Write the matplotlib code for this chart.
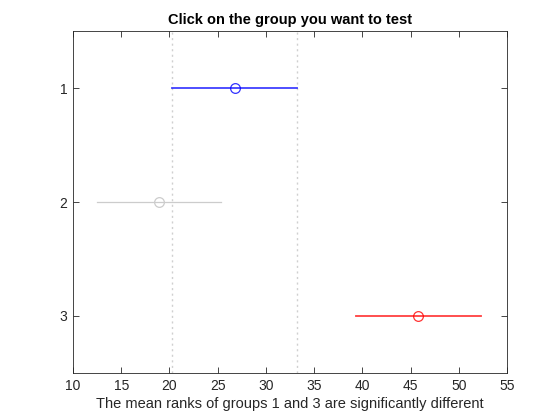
import matplotlib
matplotlib.use("Agg")
import matplotlib.pyplot as plt

groups = ["1", "2", "3"]
means = [26.75, 18.9, 45.8]
lower = [20.3, 12.45, 39.35]
upper = [33.2, 25.35, 52.25]
colors = ["#0000ff", "#cccccc", "#ff0000"]
xticks = [10, 15, 20, 25, 30, 35, 40, 45, 50, 55]

plt.rcParams['font.family'] = ['Liberation Sans', 'DejaVu Sans']
fig = plt.figure(figsize=(5.6, 4.2), dpi=100)
ax = fig.add_axes([0.1304, 0.112, 0.775, 0.814])

ypos = [1, 2, 3]
for y, m, lo, hi, c in zip(ypos, means, lower, upper, colors):
    gray = c == "#cccccc"
    ax.plot([lo, hi], [y, y], color=c, lw=0.9 if gray else 1.3, alpha=1 if gray else 0.75)
    ax.plot([m], [y], marker='o', mfc='none', mec=c, ms=7, mew=0.9, alpha=1 if gray else 0.8)

# comparison interval of selected group
ax.axvline(lower[0], color="#d0d0d0", lw=1.0, ls=(0, (1.5, 2.5)), zorder=0)
ax.axvline(upper[0], color="#d0d0d0", lw=1.0, ls=(0, (1.5, 2.5)), zorder=0)

ax.set_xlim(10, 55)
ax.set_ylim(3.5, 0.5)
ax.set_xticks(xticks)
ax.set_xticklabels([str(t) for t in xticks])
ax.set_yticks(ypos)
ax.set_yticklabels(groups)
ax.tick_params(direction='in', top=True, right=True, labelsize=10, length=4, width=0.6, colors='#262626', pad=4)
for s in ax.spines.values():
    s.set_linewidth(0.6)
    s.set_color('#262626')
ax.set_title("Click on the group you want to test", fontsize=10.5, fontweight='bold', pad=5)
ax.set_xlabel("The mean ranks of groups 1 and 3 are significantly different", fontsize=10.5, color='#262626', labelpad=3)

fig.savefig("out.png", dpi=100)
